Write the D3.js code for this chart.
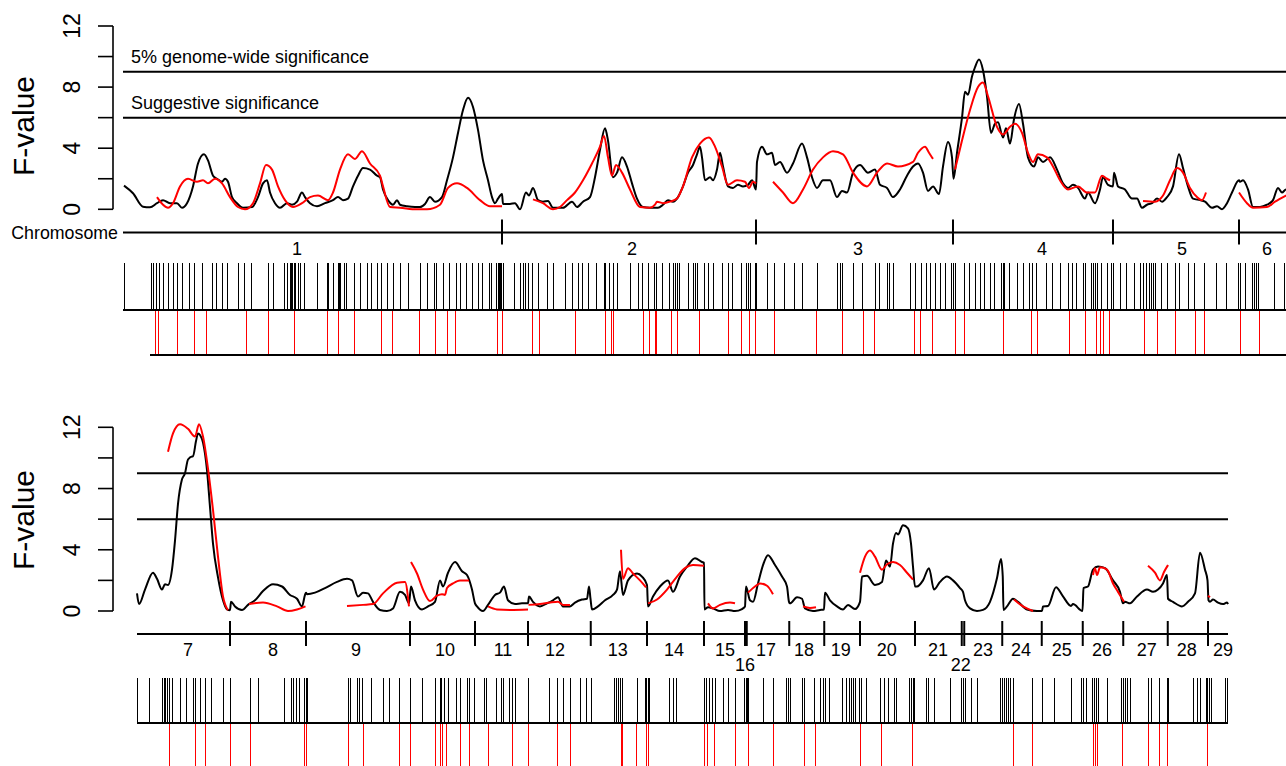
<!DOCTYPE html>
<html><head><meta charset="utf-8">
<script src="https://cdn.jsdelivr.net/npm/d3@7"></script>
<style>body{margin:0;background:#fff}svg{display:block}</style>
</head><body><svg id="c" width="1286" height="766"></svg>
<script>
// ---------------- DATA ----------------
const yTicks = [0, 2, 4, 6, 8, 10, 12];
const yTickLabels = [0, 4, 8, 12];
const thresholds = [9, 6];
const thresholdLabels = ["5% genome-wide significance", "Suggestive significance"];

const chromsTop = ["1", "2", "3", "4", "5", "6"];
const chromEndsTop = [151.6, 253.2, 332.0, 396.0, 446.4, 480];
const chromLabelPosTop = [69.6, 203.6, 294.0, 367.6, 423.6, 457.6];

const chromsBottom = ["7","8","9","10","11","12","13","14","15","16","17","18","19","20","21","22","23","24","25","26","27","28","29"];
const chromEndsBottom = [37.2, 67.6, 109.2, 135.2, 156.4, 181.5, 204.0, 226.8, 243.2, 243.9, 260.9, 274.9, 289.2, 311.2, 329.9, 330.9, 346.1, 361.9, 378.3, 394.5, 412.3, 428.4, 436.4];
const chromLabelPosBottom = [20.4, 54.4, 87.6, 123.2, 146.4, 167.2, 192.3, 214.8, 235.2, 243.2, 251.6, 266.8, 281.5, 299.9, 320.4, 329.5, 338.4, 353.6, 369.9, 386.0, 403.9, 419.9, 434.4];
const chromLabelRowBottom = [0,0,0,0,0,0,0,0,0,1,0,0,0,0,0,1,0,0,0,0,0,0,0];

// F-value profile, black analysis (cumulative cM, F)
const blackTop = [
[0.4,1.55],[4.0,1.05],[8.0,0.17],[10.8,0.13],[13.6,0.4],[16.0,0.6],[18.8,0.4],[21.6,0.4],[23.6,0.1],[25.6,0.4],[28.0,1.5],[30.0,3.0],[32.4,3.6],[34.0,3.2],[36.0,2.2],[37.6,2.0],[39.6,1.8],[40.8,2.0],[42.0,1.8],[43.6,0.8],[45.6,0.4],[48.0,0.1],[51.6,0.15],[54.0,0.8],[56.0,1.7],[57.6,1.9],[58.8,1.1],[60.8,0.4],[62.8,0.1],[65.6,0.4],[67.6,0.3],[69.6,0.5],[71.6,1.1],[72.8,0.8],[74.8,0.4],[77.6,0.2],[80.8,0.4],[84.0,0.6],[86.0,0.8],[88.0,0.6],[90.0,0.7],[92.0,1.5],[94.0,2.2],[96.0,2.7],[98.8,2.6],[101.6,2.2],[102.8,2.1],[104.0,1.3],[106.0,0.6],[108.0,0.3],[109.6,0.6],[110.8,0.3],[113.6,0.2],[116.8,0.15],[118.8,0.15],[120.8,0.35],[122.8,0.8],[124.8,0.5],[127.6,0.8],[129.6,1.9],[132.0,3.4],[134.0,5.0],[136.0,6.5],[138.0,7.3],[140.0,6.7],[142.0,5.2],[144.0,3.2],[146.0,1.9],[147.6,0.8],[148.8,0.4],[150.0,0.7],[151.6,1.0],
[152.0,0.35],[154.8,0.35],[156.8,0.4],[158.8,0.0],[161.2,1.1],[162.4,0.9],[164.0,1.4],[166.0,0.6],[168.0,0.5],[170.0,0.55],[172.0,0.1],[176.0,0.1],[179.6,0.5],[181.6,0.15],[184.0,0.5],[186.8,0.8],[188.8,2.1],[190.8,3.9],[192.8,5.3],[194.0,4.5],[196.0,2.1],[197.6,2.4],[199.6,3.4],[201.6,2.8],[203.6,1.7],[205.6,0.7],[208.0,0.15],[210.8,0.1],[214.0,0.1],[216.0,0.3],[218.0,0.6],[220.0,0.5],[222.0,0.8],[224.0,1.5],[226.0,2.4],[228.0,2.9],[229.6,3.6],[230.8,4.1],[231.6,3.4],[232.8,1.9],[234.8,2.1],[236.0,1.9],[237.6,2.6],[238.8,3.7],[240.0,2.8],[242.0,1.5],[244.0,1.4],[246.0,1.6],[248.0,1.5],[250.0,1.6],[251.6,1.9],[253.2,1.3],
[253.6,3.1],[255.6,4.1],[257.6,3.6],[259.6,3.7],[260.8,2.9],[262.8,3.1],[265.6,2.4],[268.0,3.0],[271.6,4.3],[273.6,3.4],[275.6,2.1],[277.6,1.4],[280.0,1.9],[282.8,1.9],[285.6,0.8],[287.6,1.2],[289.6,1.1],[292.0,2.4],[294.8,2.9],[298.0,2.4],[300.8,2.6],[302.8,1.6],[305.6,1.4],[308.0,0.8],[310.8,1.3],[313.6,2.2],[316.0,2.8],[318.0,3.0],[320.0,2.4],[322.0,1.2],[324.0,1.5],[326.4,1.0],[328.0,2.8],[330.0,4.4],[331.6,3.4],[332.2,2.0],
[333.6,3.7],[335.6,6.0],[336.8,7.7],[338.0,7.5],[339.6,8.7],[340.8,9.3],[342.4,9.8],[344.0,9.1],[345.6,7.4],[347.2,5.0],[348.8,5.6],[350.0,5.7],[352.0,4.7],[353.2,5.3],[354.8,4.3],[356.4,5.9],[358.4,6.9],[360.0,5.6],[362.0,3.4],[364.4,2.8],[366.0,3.4],[368.0,3.1],[370.8,3.4],[373.6,2.6],[376.0,1.7],[378.0,1.4],[380.0,1.6],[382.0,1.4],[384.8,0.7],[386.0,1.1],[388.8,0.4],[390.8,1.3],[392.0,2.1],[394.0,1.6],[396.0,1.5],
[396.4,2.4],[398.0,1.5],[400.8,1.3],[403.6,0.7],[405.6,0.7],[407.6,0.1],[409.6,0.3],[411.6,0.4],[413.6,0.7],[415.6,0.5],[417.6,0.8],[420.0,1.5],[422.4,3.6],[424.0,2.7],[426.0,1.5],[428.0,0.7],[430.8,0.6],[432.8,0.5],[435.6,0.1],[437.6,0.2],[439.6,0.0],[441.6,0.4],[443.6,1.1],[446.4,1.9],
[446.8,1.8],[448.0,1.9],[450.0,1.3],[452.0,0.15],[454.8,0.15],[457.6,0.3],[460.0,0.6],[462.0,1.4],[463.6,1.1],[465.2,1.3],[466.8,1.0]
];

// F-value profile, red analysis (one segment per chromosome)
const redTop = [
[[13.6,0.8],[16.0,0.3],[18.0,0.1],[20.0,0.4],[22.8,1.5],[26.0,2.0],[29.6,1.8],[32.0,1.9],[34.0,1.7],[36.8,2.0],[39.6,1.7],[42.8,0.8],[46.0,0.15],[48.8,0.0],[52.0,0.4],[54.8,1.7],[57.2,2.9],[59.6,2.6],[62.0,1.5],[64.8,0.6],[68.0,0.15],[71.6,0.4],[74.8,0.8],[78.0,0.9],[82.0,0.6],[84.0,1.1],[86.8,2.6],[90.0,3.6],[92.8,3.3],[95.6,3.8],[98.8,3.0],[102.8,2.2],[104.0,1.5],[106.8,0.15],[110.8,0.1],[117.6,0.0],[121.6,0.0],[126.8,0.3],[130.0,1.4],[133.6,1.7],[137.6,1.4],[142.8,0.6],[146.8,0.2],[151.6,0.2]],
[[164.0,0.65],[168.0,0.4],[172.0,0.0],[174.8,0.15],[177.6,0.6],[180.8,1.1],[184.0,1.9],[187.6,3.0],[190.8,4.1],[192.4,4.8],[194.0,3.4],[195.6,2.2],[197.2,2.9],[199.6,2.4],[202.8,1.3],[206.8,0.15],[210.8,0.1],[212.8,0.3],[213.6,0.5],[216.0,0.4],[218.8,0.5],[221.6,0.7],[224.0,1.5],[227.6,3.4],[230.8,4.3],[234.4,4.7],[236.8,4.1],[239.6,2.8],[242.0,1.6],[245.6,1.9],[248.8,1.8],[250.4,1.4],[252.0,1.8],[253.2,1.7]],
[[260.0,1.8],[264.0,1.1],[268.0,0.4],[272.0,1.3],[276.0,2.6],[280.0,3.4],[284.0,3.8],[288.0,3.6],[292.0,2.4],[297.6,1.5],[301.6,2.4],[305.6,3.0],[310.0,2.8],[316.0,3.1],[318.0,3.7],[320.8,4.1],[322.4,3.7],[324.0,3.3]],
[[332.8,2.6],[335.6,4.5],[338.8,6.5],[342.0,8.0],[344.0,8.3],[346.0,7.4],[349.6,5.4],[352.0,4.9],[354.8,5.4],[356.8,5.6],[359.6,5.0],[362.0,3.7],[364.0,3.1],[366.0,3.6],[369.6,3.4],[372.0,2.8],[374.8,1.9],[378.0,1.3],[382.0,1.5],[385.6,1.1],[388.8,1.1],[391.6,2.2],[393.6,2.0],[394.8,1.9]],
[[408.0,0.55],[412.8,0.5],[416.0,0.9],[418.8,1.9],[421.6,2.7],[424.0,2.4],[426.8,1.4],[429.6,0.8],[431.6,0.6],[433.2,1.1]],
[[446.4,1.1],[449.6,0.4],[452.0,0.1],[457.6,0.15],[460.8,0.5],[465.2,0.9],[467.6,1.1]]
];

const blackBottom = [
[0.0,1.15],[0.8,0.45],[3.2,1.4],[6.4,2.5],[8.0,2.1],[10.0,1.4],[11.2,1.75],[12.4,1.7],[14.0,2.7],[15.2,4.6],[16.4,7.0],[18.0,8.6],[19.2,9.0],[20.4,9.9],[22.0,10.1],[22.4,10.1],[23.6,11.1],[24.4,11.6],[25.2,11.5],[26.4,11.0],[28.0,9.2],[29.2,6.8],[30.4,4.4],[32.4,2.2],[34.4,0.7],[36.0,0.1],[37.2,0.05],
[37.6,0.6],[39.2,0.3],[42.0,0.07],[44.4,0.4],[47.2,0.7],[50.4,1.3],[54.4,1.75],[58.0,1.6],[61.2,1.05],[64.0,0.8],[66.0,0.3],[67.2,1.05],[67.6,1.2],
[68.0,1.1],[71.2,1.2],[75.2,1.5],[80.0,1.9],[84.0,2.1],[86.0,2.0],[88.4,0.95],[90.4,1.2],[92.4,1.15],[94.4,0.6],[97.2,0.07],[100.0,0.0],[102.4,0.17],[105.2,1.25],[107.2,1.05],[108.8,0.5],
[109.6,1.6],[111.2,0.7],[114.0,0.1],[116.4,0.3],[119.2,0.6],[121.2,2.0],[122.4,1.6],[124.4,2.5],[127.2,3.2],[130.0,2.6],[132.0,2.35],[134.0,1.4],[135.2,0.5],
[136.0,0.3],[138.4,0.0],[140.4,0.4],[143.2,1.05],[145.2,1.2],[146.8,1.6],[148.4,0.7],[151.2,0.45],[154.0,0.5],[156.4,0.5],
[156.8,0.95],[158.4,0.6],[161.2,0.3],[164.0,0.5],[166.4,0.7],[168.4,0.9],[170.4,0.3],[173.2,0.3],[175.2,0.55],[178.0,0.75],[180.0,0.8],[180.8,1.6],[181.4,0.8],
[182.0,0.1],[184.4,0.3],[187.2,0.7],[190.4,1.05],[192.0,1.4],[193.2,2.6],[194.4,1.05],[196.4,2.0],[200.0,2.45],[202.0,2.25],[204.0,1.7],
[204.4,0.3],[206.4,0.95],[209.2,1.6],[212.4,2.0],[214.4,1.25],[217.2,2.25],[220.0,2.9],[223.2,3.45],[226.0,3.2],[226.8,3.15],
[227.0,0.1],[228.4,0.25],[230.4,0.17],[233.2,0.0],[236.4,0.07],[239.2,0.0],[242.0,0.13],[243.2,0.3],
[243.6,1.6],[245.2,0.7],[246.4,0.6],[248.4,1.8],[250.4,3.0],[252.4,3.65],[255.2,3.0],[258.0,2.25],[260.0,1.6],[260.8,0.6],
[261.2,0.5],[264.0,0.9],[266.0,0.8],[267.2,0.17],[270.4,0.0],[273.2,0.07],[274.8,0.1],
[275.2,1.2],[277.2,0.7],[280.0,0.3],[282.4,0.1],[284.4,0.4],[287.2,0.13],[289.2,0.6],
[290.0,2.25],[292.0,2.3],[295.2,1.7],[298.0,1.9],[299.6,3.3],[301.2,2.9],[302.4,4.4],[303.6,5.1],[304.4,5.0],[306.4,5.6],[308.4,5.4],[309.6,4.4],[310.4,2.9],[311.2,1.6],
[312.0,1.6],[314.4,2.0],[316.8,2.8],[318.8,1.4],[321.2,1.9],[324.0,2.25],[326.4,2.0],[329.2,1.5],[330.4,1.25],
[331.2,0.7],[333.2,0.17],[336.0,0.0],[338.4,0.07],[341.2,0.6],[344.0,2.15],[345.6,3.4],[346.3,2.25],[346.6,0.07],
[348.0,0.3],[350.4,0.8],[352.4,0.6],[356.0,0.1],[360.0,0.0],[362.0,0.0],
[362.4,0.3],[364.4,0.33],[367.6,1.55],[370.4,0.95],[373.6,0.33],[374.4,0.45],[378.2,0.0],
[378.6,1.5],[380.4,1.6],[382.4,2.7],[384.4,2.9],[387.2,2.8],[390.4,2.0],[393.2,1.25],[394.4,0.5],
[395.2,0.6],[397.2,0.5],[400.0,0.95],[404.0,1.4],[406.4,1.25],[408.4,1.4],[410.4,1.8],[412.0,2.35],[412.4,0.8],
[414.4,0.6],[418.0,0.3],[420.4,0.6],[423.2,1.15],[425.2,3.8],[427.2,2.7],[428.2,2.0],[428.6,0.7],
[429.2,0.6],[430.4,0.75],[432.4,0.55],[434.4,0.45],[436.0,0.55],[436.4,0.45]
];

const redBottom = [
[[12.4,10.4],[14.4,11.6],[17.2,12.2],[20.4,11.9],[23.2,11.4],[24.8,12.2],[26.4,11.4],[28.4,9.3],[30.4,6.6],[32.4,3.55],[34.4,0.95],[36.4,0.05]],
[[44.8,0.45],[50.4,0.55],[56.0,0.3],[60.4,0.0],[64.0,0.1],[67.4,0.3]],
[[84.0,0.33],[90.4,0.4],[94.4,0.45],[98.4,1.15],[104.0,1.85],[107.2,1.9],[108.8,0.3]],
[[109.6,3.2],[112.0,2.45],[114.4,1.4],[117.2,0.65],[120.0,1.0],[122.0,1.1],[123.2,1.05],[124.0,1.5],[126.4,1.8],[129.2,2.0],[132.8,2.0]],
[[140.4,0.3],[144.0,0.1],[149.2,0.07],[156.4,0.1]],
[[156.6,0.4],[161.2,0.45],[165.2,0.55],[168.4,0.6],[170.4,0.4],[173.2,0.4]],
[[193.6,4.0],[194.4,2.1],[196.4,2.8],[198.4,2.45],[201.2,2.0],[203.6,1.55]],
[[204.4,0.5],[208.0,0.75],[212.0,1.4],[216.0,2.25],[219.2,2.8],[222.4,3.0],[226.8,2.95]],
[[228.4,0.5],[230.4,0.17],[233.2,0.4],[237.2,0.55],[239.2,0.5]],
[[244.4,1.2],[247.2,1.6],[249.2,1.8],[252.0,1.65],[254.4,1.1]],
[[266.4,0.3],[269.2,0.2],[271.6,0.25]],
[[289.2,2.5],[291.2,3.55],[293.2,3.95],[295.2,3.55],[298.0,2.7],[300.0,3.05],[302.4,3.2],[305.2,3.0],[308.0,2.5],[310.4,2.05]],
[[350.8,0.75],[354.4,0.3],[358.4,0.0]],
[[382.4,2.35],[383.2,2.8],[384.0,2.35],[385.2,2.85],[388.0,2.7],[390.4,1.8],[392.4,1.25],[394.8,0.6]],
[[404.4,2.95],[407.2,2.5],[409.2,2.0],[410.8,2.55],[412.4,3.0]],
[[428.4,1.0],[429.2,0.9]]
];

// Marker maps (cM)
const markersBlackTop = [0.5,11.2,12.0,13.2,14.4,16.0,18.0,20.0,21.6,23.6,26.4,28.4,31.6,35.6,37.2,39.6,41.6,46.0,48.4,51.2,58.0,60.0,64.4,65.6,66.8,67.2,67.8,68.4,68.8,70.0,70.8,72.4,77.6,81.6,82.2,84.0,86.0,86.4,87.0,88.4,89.2,92.4,94.8,97.6,99.2,101.6,103.2,105.6,108.2,110.8,114.0,118.8,121.6,124.4,125.2,128.0,130.6,133.2,135.0,137.2,139.6,142.2,143.8,146.4,147.2,149.2,150.0,150.4,151.0,151.5,152.0,156.4,158.8,160.0,160.8,162.0,163.6,166.2,169.6,172.0,176.8,179.6,182.0,183.6,186.0,189.4,192.4,193.0,194.4,196.0,197.6,202.8,206.0,207.6,210.0,212.4,213.4,215.9,218.4,220.0,220.8,221.6,222.4,226.2,228.2,229.0,229.9,232.4,234.0,236.0,239.6,242.2,243.9,247.2,249.2,250.0,251.0,253.0,253.4,257.9,260.4,264.4,268.6,271.9,277.6,285.9,286.8,287.6,292.2,295.8,300.8,302.7,305.7,306.4,308.2,314.8,316.8,319.4,321.4,323.0,325.1,326.8,328.8,331.2,332.0,332.8,336.7,338.6,341.1,342.8,344.4,346.8,348.4,351.5,352.2,352.6,354.6,357.6,360.0,362.4,363.6,365.2,369.2,371.6,374.8,378.2,379.8,381.2,384.0,385.1,387.2,388.0,388.8,389.6,391.4,393.9,395.5,396.0,398.8,401.2,404.6,407.0,408.2,409.2,410.4,411.2,412.0,412.8,415.3,417.8,421.0,422.7,426.0,428.5,432.6,437.5,441.2,446.1,446.8,449.1,451.6,452.4,453.2,454.0,460.6,464.7];
const markersRedTop = [13.1,14.1,21.6,28.7,33.3,49.2,58.0,68.6,81.7,86.0,92.6,103.2,107.9,118.6,125.0,129.9,132.9,149.6,151.6,163.7,166.5,180.8,192.9,195.4,196.2,208.1,210.4,212.8,213.4,219.2,221.6,230.7,242.2,247.2,250.4,253.0,260.4,277.4,287.6,296.1,300.4,316.4,318.8,323.8,332.9,336.5,352.2,363.4,365.8,378.5,384.8,389.4,391.1,392.2,394.7,408.7,413.6,421.0,429.0,432.6,446.9,454.4];
const redMapStartTop = 10.8;

const markersBlackBottom = [0.0,5.1,10.2,10.9,11.5,12.0,12.8,14.3,17.4,19.6,22.7,23.5,25.3,27.3,29.9,34.5,37.2,45.4,48.4,59.1,61.8,62.5,63.6,64.8,67.1,67.6,68.2,84.4,85.5,88.1,89.0,90.1,93.9,98.5,101.1,104.9,109.2,114.2,119.2,121.4,121.9,123.0,124.5,127.6,129.4,132.2,132.9,134.9,139.0,139.8,143.6,145.6,146.7,149.0,150.2,151.3,156.4,165.1,168.1,170.4,173.2,177.3,179.9,181.6,191.1,191.8,192.6,193.4,194.2,200.3,203.3,203.8,204.4,204.9,213.0,214.5,215.6,226.9,227.7,228.8,230.3,231.4,234.5,236.5,239.3,243.1,243.8,244.2,244.7,250.4,254.6,259.6,260.4,261.2,266.3,266.9,270.9,273.5,274.6,275.5,277.1,282.0,283.6,285.1,285.9,286.6,287.4,289.0,289.7,291.6,297.4,299.0,300.5,302.8,303.6,309.0,309.8,310.6,311.0,315.6,316.7,319.0,325.2,329.8,330.6,331.4,333.7,336.3,345.3,346.0,346.8,347.6,348.4,349.2,350.7,358.0,362.0,366.9,373.8,377.7,378.5,379.6,382.3,383.1,383.9,384.6,388.2,393.9,394.7,395.4,396.2,397.4,404.4,405.8,409.0,412.0,412.4,422.4,424.0,425.2,427.8,428.3,428.9,429.7,435.2,436.2];
const markersRedBottom = [12.8,23.5,27.3,37.2,45.4,67.1,67.9,84.4,90.5,105.1,109.2,119.3,121.4,122.2,123.7,129.4,132.9,140.6,150.1,156.6,168.1,173.2,193.7,194.3,199.8,203.6,204.4,226.9,228.3,230.8,239.3,244.4,254.4,266.9,271.2,289.4,297.8,310.0,350.7,358.1,382.6,383.2,384.2,394.2,404.4,409.0,412.0,428.3];
const redMapStartBottom = 12.8;

// ---------------- DRAWING ----------------
const FONT = "'Liberation Sans', Arial, Helvetica, sans-serif";
const svg = d3.select("#c");

const panels = [
  { chroms: chromsTop, ends: chromEndsTop, labelPos: chromLabelPosTop, labelRow: chromsTop.map(() => 0),
    black: blackTop, red: redTop, mb: markersBlackTop, mr: markersRedTop, redStart: redMapStartTop,
    xDomain: [0, 465.2], xRange: [123, 1286], yRange: [209.3, 26],
    axisX: 113, ylabY: 126, chrAxisY: 232.5, labBase: [254.5, 270],
    rugTop: 263, rugBase: 310, rugBottom: 355, showTitle: true, showSig: true },
  { chroms: chromsBottom, ends: chromEndsBottom, labelPos: chromLabelPosBottom, labelRow: chromLabelRowBottom,
    black: blackBottom, red: redBottom, mb: markersBlackBottom, mr: markersRedBottom, redStart: redMapStartBottom,
    xDomain: [0, 436.4], xRange: [137, 1228], yRange: [611, 427.3],
    axisX: 113, ylabY: 520, chrAxisY: 634, labBase: [656, 671],
    rugTop: 678, rugBase: 723, rugBottom: 767, showTitle: false, showSig: false }
];

panels.forEach(p => {
  const x = d3.scaleLinear().domain(p.xDomain).range(p.xRange);
  const y = d3.scaleLinear().domain([0, 12]).range(p.yRange);
  const g = svg.append("g");
  const genomeEnd = Math.min(p.ends[p.ends.length - 1], p.xDomain[1]);

  // y axis
  g.append("line").attr("x1", p.axisX).attr("x2", p.axisX)
    .attr("y1", y(0)).attr("y2", y(12)).attr("stroke", "#000").attr("stroke-width", 1.6);
  g.selectAll(null).data(yTicks).enter().append("line")
    .attr("x1", p.axisX - 15).attr("x2", p.axisX)
    .attr("y1", d => y(d)).attr("y2", d => y(d))
    .attr("stroke", "#000").attr("stroke-width", 1.6);
  g.selectAll(null).data(yTickLabels).enter().append("text")
    .attr("transform", d => `translate(80,${y(d)}) rotate(-90)`)
    .attr("text-anchor", "middle").attr("font-family", FONT).attr("font-size", 23)
    .attr("fill", "#000").text(d => d);
  g.append("text").attr("transform", `translate(34,${p.ylabY}) rotate(-90)`)
    .attr("text-anchor", "middle").attr("font-family", FONT).attr("font-size", 30)
    .attr("fill", "#000").text("F-value");

  // threshold lines
  g.selectAll(null).data(thresholds).enter().append("line")
    .attr("x1", x(0)).attr("x2", x(genomeEnd))
    .attr("y1", d => y(d)).attr("y2", d => y(d))
    .attr("stroke", "#000").attr("stroke-width", 2);
  if (p.showSig) {
    g.selectAll(null).data(thresholds).enter().append("text")
      .attr("x", x(0) + 8).attr("y", d => y(d) - 8.4)
      .attr("font-family", FONT).attr("font-size", 18).attr("fill", "#000")
      .text((d, i) => thresholdLabels[i]);
  }

  // curves
  const line = d3.line().x(d => x(d[0])).y(d => y(d[1])).curve(d3.curveMonotoneX);
  g.append("path").attr("d", line(p.black)).attr("fill", "none")
    .attr("stroke", "#000").attr("stroke-width", 2).attr("stroke-linejoin", "round");
  g.selectAll(null).data(p.red).enter().append("path")
    .attr("d", d => line(d)).attr("fill", "none")
    .attr("stroke", "#ff0000").attr("stroke-width", 2).attr("stroke-linejoin", "round");

  // chromosome axis
  g.append("line").attr("x1", x(0)).attr("x2", x(genomeEnd))
    .attr("y1", p.chrAxisY).attr("y2", p.chrAxisY).attr("stroke", "#000").attr("stroke-width", 2);
  g.selectAll(null).data(p.ends.slice(0, -1)).enter().append("line")
    .attr("x1", d => x(d)).attr("x2", d => x(d))
    .attr("y1", p.chrAxisY - 13).attr("y2", p.chrAxisY + 12)
    .attr("stroke", "#000").attr("stroke-width", 2);
  g.selectAll(null).data(p.chroms).enter().append("text")
    .attr("x", (d, i) => x(p.labelPos[i]))
    .attr("y", (d, i) => p.labBase[p.labelRow[i]])
    .attr("text-anchor", "middle").attr("font-family", FONT).attr("font-size", 18)
    .attr("fill", "#000").text(d => d);
  if (p.showTitle) {
    g.append("text").attr("x", x(0) - 5).attr("y", p.chrAxisY + 6)
      .attr("text-anchor", "end").attr("font-family", FONT).attr("font-size", 17.8)
      .attr("fill", "#000").text("Chromosome");
  }

  // marker rugs
  g.selectAll(null).data(p.mb).enter().append("line")
    .attr("x1", d => x(d)).attr("x2", d => x(d))
    .attr("y1", p.rugTop).attr("y2", p.rugBase)
    .attr("stroke", "#000").attr("stroke-width", 1).attr("shape-rendering", "crispEdges");
  g.selectAll(null).data(p.mr).enter().append("line")
    .attr("x1", d => x(d)).attr("x2", d => x(d))
    .attr("y1", p.rugBase).attr("y2", p.rugBottom)
    .attr("stroke", "#ff0000").attr("stroke-width", 1).attr("shape-rendering", "crispEdges");
  g.append("line").attr("x1", x(0)).attr("x2", x(genomeEnd))
    .attr("y1", p.rugBase).attr("y2", p.rugBase).attr("stroke", "#000").attr("stroke-width", 2);
  g.append("line").attr("x1", x(p.redStart)).attr("x2", x(genomeEnd))
    .attr("y1", p.rugBottom).attr("y2", p.rugBottom).attr("stroke", "#000").attr("stroke-width", 2);
});
</script>
</body></html>
